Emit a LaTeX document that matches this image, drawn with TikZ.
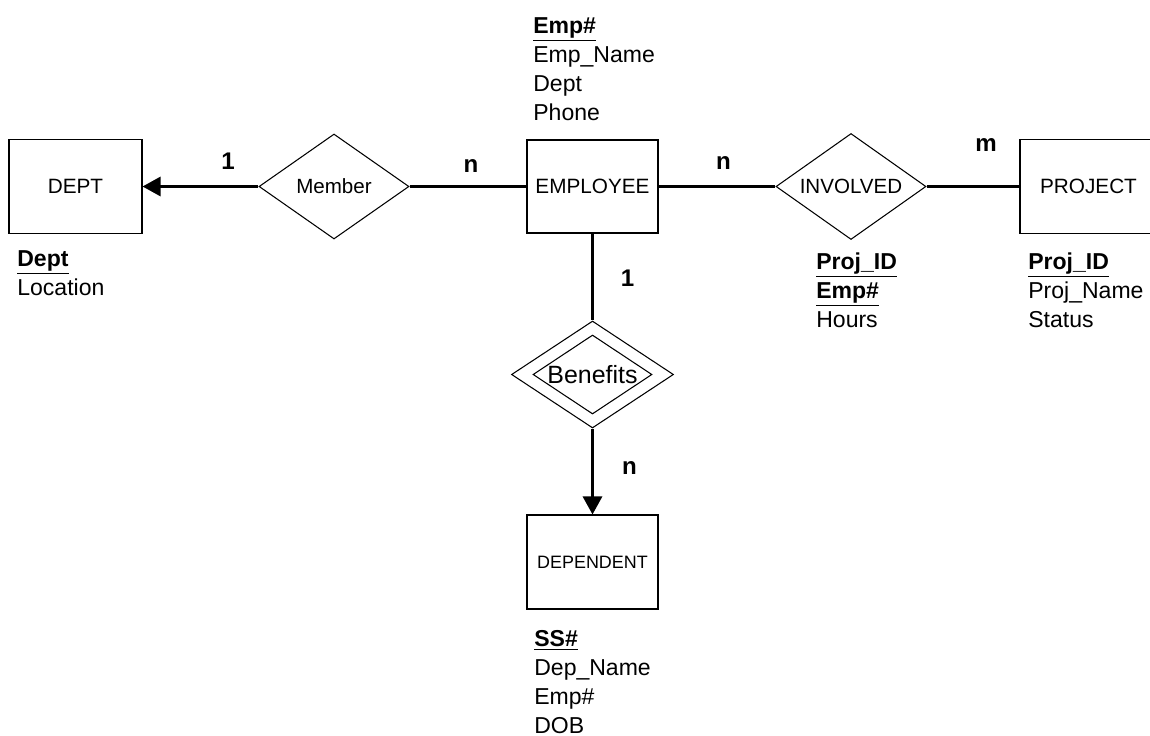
\documentclass[tikz,border=0pt]{standalone}
\usepackage{fontspec}
\setmainfont{Liberation Sans}
\usetikzlibrary{shapes.geometric,arrows.meta}

\newcommand{\keyattr}[1]{\underline{\textbf{#1}}}

\begin{document}
\begin{tikzpicture}[
    entity/.style={draw, line width=0.6pt, inner sep=0pt, minimum width=2.62cm, minimum height=1.88cm, font=\fontsize{11.8}{14}\selectfont},
    rel/.style={diamond, draw, line width=0.6pt, inner sep=0pt, minimum width=3cm, minimum height=2.1cm},
    reltext/.style={font=\fontsize{11.7}{14}\selectfont},
    attrs/.style={anchor=north west, inner sep=0pt, align=left, font=\fontsize{13.1}{16.5}\selectfont},
    card/.style={inner sep=0pt, font=\fontsize{13.7}{16}\selectfont\bfseries},
    conn/.style={line width=1.7pt},
    arr/.style={conn, -{Triangle[length=0.36cm, width=0.38cm]}}
]
    \useasboundingbox (0,0) rectangle (23,-14.72);

    % entities
    \node[entity, minimum width=2.66cm] (dept) at (1.51,-3.73) {DEPT};
    \node[entity, minimum height=1.86cm] (emp) at (11.85,-3.73) {EMPLOYEE};
    \node[entity, minimum width=2.74cm] (proj) at (21.77,-3.73) {PROJECT};
    \node[entity, font=\fontsize{10.2}{12}\selectfont] (dep) at (11.85,-11.24) {DEPENDENT};

    % relationships
    \node[rel, label={[reltext]center:Member}] (member) at (6.68,-3.73) {};
    \node[rel, minimum height=2.12cm, label={[reltext]center:INVOLVED}] (involved) at (17.02,-3.73) {};
    \node[rel, minimum width=3.24cm, minimum height=2.14cm] (benefits) at (11.85,-7.49) {};
    \node[rel, minimum width=2.38cm, minimum height=1.58cm,
        label={[font=\fontsize{14.2}{16}\selectfont]center:Benefits}] (benefitsin) at (benefits) {};

    % connectors
    \draw[arr] (member) -- (dept);
    \draw[conn] (member) -- (emp);
    \draw[conn] (emp) -- (involved);
    \draw[conn] (involved) -- (proj);
    \draw[conn] (emp) -- (benefits);
    \draw[arr] (benefits) -- (dep);

    % cardinalities
    \node[card] (c1) at (4.56,-3.23) {1};
    \node[card] (c2) at (9.42,-3.33) {n};
    \node[card] (c3) at (14.47,-3.27) {n};
    \node[card] (c4) at (19.72,-2.90) {m};
    \node[card] (c5) at (12.55,-5.56) {1};
    \node[card] (c6) at (12.59,-9.37) {n};

    % attributes
    \node[attrs] (empattr) at (10.66,-0.34) {\keyattr{Emp\#}\\Emp\_Name\\Dept\\Phone};
    \node[attrs] (deptattr) at (0.34,-5.0) {\keyattr{Dept}\\Location};
    \node[attrs] (invattr) at (16.32,-5.04) {\keyattr{Proj\_ID}\\\keyattr{Emp\#}\\Hours};
    \node[attrs] (projattr) at (20.56,-5.04) {\keyattr{Proj\_ID}\\Proj\_Name\\Status};
    \node[attrs] (depattr) at (10.68,-12.6) {\keyattr{SS\#}\\Dep\_Name\\Emp\#\\DOB};
\end{tikzpicture}
\end{document}
